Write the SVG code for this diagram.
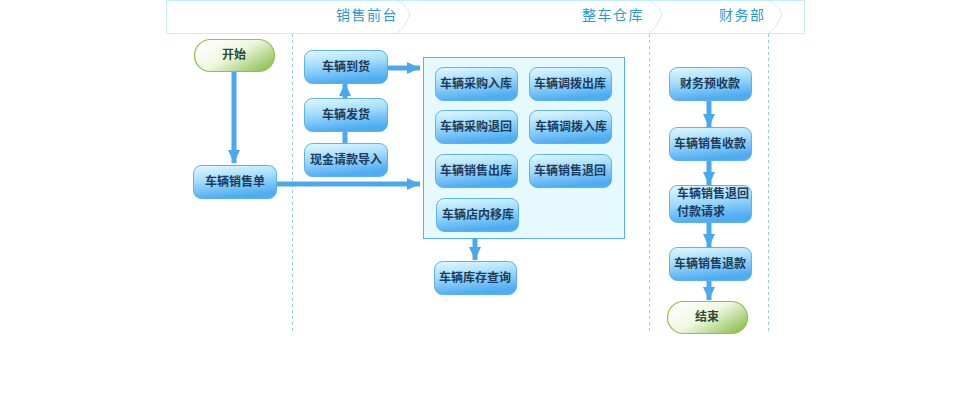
<svg xmlns="http://www.w3.org/2000/svg" width="971" height="401" viewBox="0 0 971 401">
<defs>
<linearGradient id="gBlue" x1="0" y1="0" x2="0.25" y2="1">
<stop offset="0" stop-color="#e2f9ff"/>
<stop offset="0.45" stop-color="#a6defc"/>
<stop offset="1" stop-color="#4eacf2"/>
</linearGradient>
<linearGradient id="gGreen" x1="0" y1="0.2" x2="1" y2="0.9">
<stop offset="0" stop-color="#ffffff"/>
<stop offset="0.45" stop-color="#eef7df"/>
<stop offset="1" stop-color="#86bc46"/>
</linearGradient>
<marker id="ah" markerWidth="13" markerHeight="12" refX="13" refY="6" orient="auto" markerUnits="userSpaceOnUse">
<path d="M0,0 L13,6 L0,12 Z" fill="#4aa8ee"/>
</marker>
</defs>
<style>
.hdr{font-family:"Noto Sans CJK SC","Noto Sans",sans-serif;font-size:14px;fill:#2a9ad0;letter-spacing:1.5px}
.node rect{fill:url(#gBlue);stroke:#5ab2ef;stroke-width:1}
.term rect{fill:url(#gGreen);stroke:#8dc14a;stroke-width:1.2}
.t{font-family:"Noto Sans CJK SC","Noto Sans",sans-serif;font-size:12px;font-weight:bold;fill:#1d3c5c;text-anchor:middle}
.tg{font-family:"Noto Sans CJK SC","Noto Sans",sans-serif;font-size:12px;font-weight:bold;fill:#2b4838;text-anchor:middle}
.lane{stroke:#9cc9ee;stroke-width:1;stroke-dasharray:3,3}
.conn line{stroke:#4aa8ee;stroke-width:5}
</style>
<rect width="971" height="401" fill="#ffffff"/>
<g id="header">
<rect x="166.5" y="0.5" width="638" height="33" fill="#ffffff" stroke="#c6eef6" stroke-width="1"/>
<path d="M397,0.5 Q413,10 409,17 Q405,27 397,33.5" fill="none" stroke="#c6eef6" stroke-width="1"/>
<path d="M649,0.5 Q665,10 661,17 Q657,27 649,33.5" fill="none" stroke="#c6eef6" stroke-width="1"/>
<path d="M769,0.5 Q785,10 781,17 Q777,27 769,33.5" fill="none" stroke="#c6eef6" stroke-width="1"/>
<text class="hdr" x="336" y="20">销售前台</text>
<text class="hdr" x="582" y="20">整车仓库</text>
<text class="hdr" x="719" y="20">财务部</text>
</g>
<g id="lanes">
<line class="lane" x1="292.5" y1="34" x2="292.5" y2="332"/>
<line class="lane" x1="649.5" y1="34" x2="649.5" y2="332"/>
<line class="lane" x1="768.5" y1="34" x2="768.5" y2="332"/>
</g>
<g id="warehouse-box">
<rect x="423.5" y="57.5" width="201" height="181" fill="#e6f9fe" stroke="#5ab0e8" stroke-width="1"/>
</g>
<g id="connectors" class="conn">
<line x1="234" y1="71" x2="234" y2="163" marker-end="url(#ah)"/>
<line x1="276" y1="184" x2="420" y2="184" marker-end="url(#ah)"/>
<line x1="387" y1="68" x2="420" y2="68" marker-end="url(#ah)"/>
<line x1="345" y1="98" x2="345" y2="83" marker-end="url(#ah)"/>
<line x1="345" y1="131" x2="345" y2="143"/>
<line x1="475" y1="238" x2="475" y2="260" marker-end="url(#ah)"/>
<line x1="709" y1="100" x2="709" y2="127" marker-end="url(#ah)"/>
<line x1="709" y1="160" x2="709" y2="185" marker-end="url(#ah)"/>
<line x1="709" y1="222" x2="709" y2="247" marker-end="url(#ah)"/>
<line x1="709" y1="280" x2="709" y2="300" marker-end="url(#ah)"/>
</g>
<g id="start" class="term"><rect x="194.5" y="39.5" width="80" height="32" rx="16"/><text class="tg" x="234" y="59">开始</text></g>
<g id="sales-order" class="node"><rect x="193.5" y="165.5" width="83" height="33" rx="8"/><text class="t" x="235" y="186">车辆销售单</text></g>
<g id="arrival" class="node"><rect x="304.5" y="50.5" width="83" height="33" rx="8"/><text class="t" x="346" y="71">车辆到货</text></g>
<g id="shipping" class="node"><rect x="304.5" y="98.5" width="83" height="33" rx="8"/><text class="t" x="346" y="119">车辆发货</text></g>
<g id="cash-import" class="node"><rect x="304.5" y="143.5" width="83" height="33" rx="8"/><text class="t" x="346" y="164">现金请款导入</text></g>
<g id="purchase-in" class="node"><rect x="435.5" y="67.5" width="82" height="33" rx="8"/><text class="t" x="476" y="88">车辆采购入库</text></g>
<g id="transfer-out" class="node"><rect x="529.5" y="67.5" width="82" height="33" rx="8"/><text class="t" x="570" y="88">车辆调拨出库</text></g>
<g id="purchase-return" class="node"><rect x="435.5" y="110.5" width="82" height="33" rx="8"/><text class="t" x="476" y="131">车辆采购退回</text></g>
<g id="transfer-in" class="node"><rect x="529.5" y="110.5" width="82" height="33" rx="8"/><text class="t" x="571" y="131">车辆调拨入库</text></g>
<g id="sales-out" class="node"><rect x="435.5" y="154.5" width="82" height="33" rx="8"/><text class="t" x="476" y="175">车辆销售出库</text></g>
<g id="sales-return" class="node"><rect x="529.5" y="154.5" width="82" height="33" rx="8"/><text class="t" x="570" y="175">车辆销售退回</text></g>
<g id="store-move" class="node"><rect x="436.5" y="198.5" width="82" height="33" rx="8"/><text class="t" x="478" y="219">车辆店内移库</text></g>
<g id="stock-query" class="node"><rect x="434.5" y="261.5" width="82" height="33" rx="8"/><text class="t" x="475" y="282">车辆库存查询</text></g>
<g id="prepay" class="node"><rect x="669.5" y="67.5" width="82" height="33" rx="8"/><text class="t" x="710" y="88">财务预收款</text></g>
<g id="sales-receipt" class="node"><rect x="669.5" y="127.5" width="82" height="33" rx="8"/><text class="t" x="710" y="148">车辆销售收款</text></g>
<g id="refund-request" class="node"><rect x="669.5" y="185.5" width="82" height="37" rx="8"/><text class="t" x="677" y="198" style="text-anchor:start">车辆销售退回</text><text class="t" x="677" y="216" style="text-anchor:start">付款请求</text></g>
<g id="refund" class="node"><rect x="669.5" y="247.5" width="82" height="33" rx="8"/><text class="t" x="710" y="268">车辆销售退款</text></g>
<g id="end" class="term"><rect x="667.5" y="301.5" width="80" height="32" rx="16"/><text class="tg" x="707" y="321">结束</text></g>
</svg>
